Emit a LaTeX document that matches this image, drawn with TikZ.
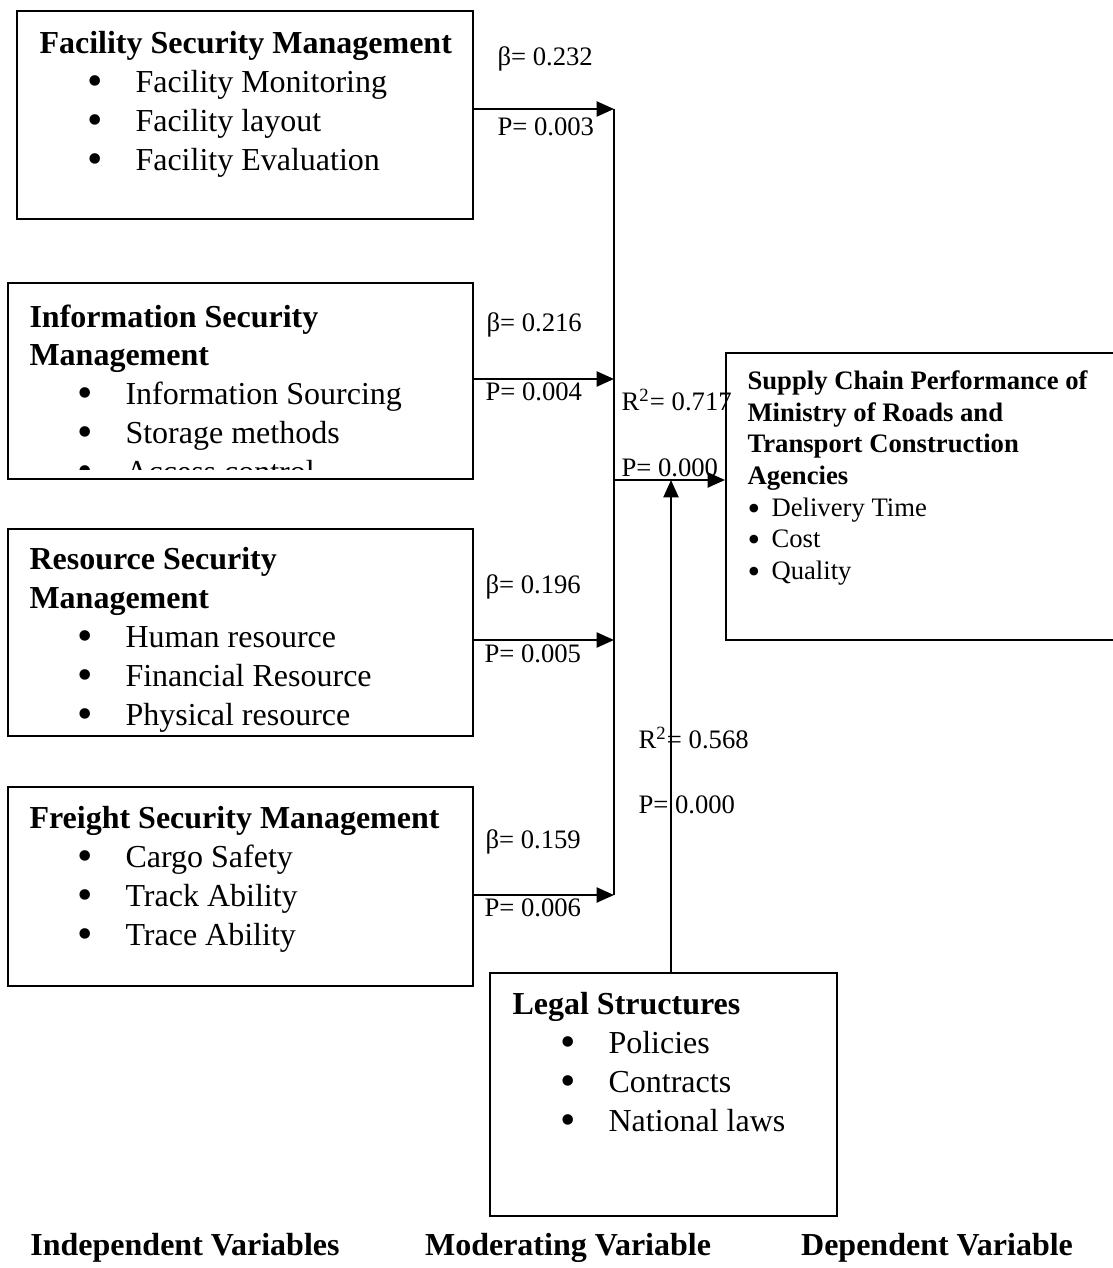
\documentclass[tikz,border=0pt]{standalone}
\usepackage{fontspec}
\setmainfont{Liberation Serif}
\usetikzlibrary{arrows.meta, fit}
\newcommand{\bigdot}{\smash{\raisebox{-0.09em}{\fontsize{16.5}{16.5}\selectfont\textbullet}}}
\newcommand{\smalldot}{\smash{\raisebox{-0.15em}{\fontsize{13.5}{13.5}\selectfont\textbullet}}}
\newcommand{\bul}[1]{\hspace*{17.8pt}\makebox[18.2pt][l]{\bigdot}#1}
\newcommand{\dbul}[1]{\makebox[9pt][l]{\smalldot}#1}

\begin{document}
\begin{tikzpicture}[
    x=0.375pt, y=-0.375pt,
    box/.style={draw, line width=0.75pt, inner sep=0pt},
    body/.style={anchor=north west, inner sep=0pt, align=left,
                 font=\fontsize{12}{14.6}\selectfont},
    dbody/.style={body, font=\fontsize{10}{11.9}\selectfont},
    lbl/.style={anchor=west, inner sep=0pt, font=\fontsize{10}{12}\selectfont},
    foot/.style={inner sep=0pt, font=\fontsize{12}{14}\selectfont\bfseries},
    arr/.style={-{Triangle[length=6.5pt, width=5.6pt]}, line width=0.85pt},
    trunk/.style={line width=0.6pt},
  ]
    \useasboundingbox (0,0) rectangle (1112,1268);

    \node[box, fit={(17,11) (473,219)}] (fsm) {};
    \node[box, fit={(8,283) (473,479)}] (ism) {};
    \node[box, fit={(8,529) (473,736)}] (rsm) {};
    \node[box, fit={(8,787) (473,986)}] (frt) {};
    \node[box, fit={(490,973) (837,1216)}] (leg) {};
    \node[box, fit={(726,353) (1140,640)}] (dep) {};

    \node[body] (fsm-t) at (39,31) {\textbf{Facility Security Management}\\
      \bul{Facility Monitoring}\\ \bul{Facility layout}\\ \bul{Facility Evaluation}};
    \begin{scope}
      \clip (8,283) rectangle (473,470);
      \node[body] (ism-t) at (29,304) {\textbf{Information Security}\\ \textbf{Management}\\
        \bul{Information Sourcing}\\ \bul{Storage methods}\\ \bul{Access control}};
    \end{scope}
    \node[body] (rsm-t) at (29,547) {\textbf{Resource Security}\\ \textbf{Management}\\
      \bul{Human resource}\\ \bul{Financial Resource}\\ \bul{Physical resource}};
    \node[body] (frt-t) at (29,806) {\textbf{Freight Security Management}\\
      \bul{Cargo Safety}\\ \bul{Track Ability}\\ \bul{Trace Ability}};
    \node[body] (leg-t) at (512,992) {\textbf{Legal Structures}\\
      \bul{Policies}\\ \bul{Contracts}\\ \bul{National laws}};
    \node[dbody] (dep-t) at (747,370) {\textbf{Supply Chain Performance of}\\
      \textbf{Ministry of Roads and}\\ \textbf{Transport Construction}\\ \textbf{Agencies}\\
      \dbul{Delivery Time}\\ \dbul{Cost}\\ \dbul{Quality}};

    \node[lbl] (b1) at (497,59) {β= 0.232};
    \node[lbl] (p1) at (497,127) {P= 0.003};
    \node[lbl] (b2) at (486,325) {β= 0.216};
    \node[lbl] (p2) at (485,392) {P= 0.004};
    \node[lbl] (r1) at (621,400) {R\textsuperscript{2}= 0.717};
    \node[lbl] (p0) at (621,468) {P= 0.000};
    \node[lbl] (b3) at (485,587) {β= 0.196};
    \node[lbl] (p3) at (484,654) {P= 0.005};
    \node[lbl] (b4) at (485,842) {β= 0.159};
    \node[lbl] (p4) at (484,908) {P= 0.006};
    \node[lbl] (r2) at (638,738) {R\textsuperscript{2}= 0.568};
    \node[lbl] (pm) at (638,805) {P= 0.000};

    \coordinate (j1) at (614,109);
    \coordinate (j2) at (614,379);
    \coordinate (j3) at (614,640);
    \coordinate (j4) at (614,895);
    \coordinate (jo) at (614,480);
    \coordinate (jm) at (671,480);

    \draw[trunk] (j1) -- (j4);
    \draw[arr] (fsm.east |- j1) -- (j1);
    \draw[arr] (ism.east |- j2) -- (j2);
    \draw[arr] (rsm.east |- j3) -- (j3);
    \draw[arr] (frt.east |- j4) -- (j4);
    \draw[arr] (jo) -- (dep.west |- jo);
    \draw[arr] (leg.north -| jm) -- (jm);

    \node[foot] (iv) at (185,1248) {Independent Variables};
    \node[foot] (mv) at (568,1248) {Moderating Variable};
    \node[foot] (dv) at (937,1248) {Dependent Variable};
  \end{tikzpicture}
\end{document}
